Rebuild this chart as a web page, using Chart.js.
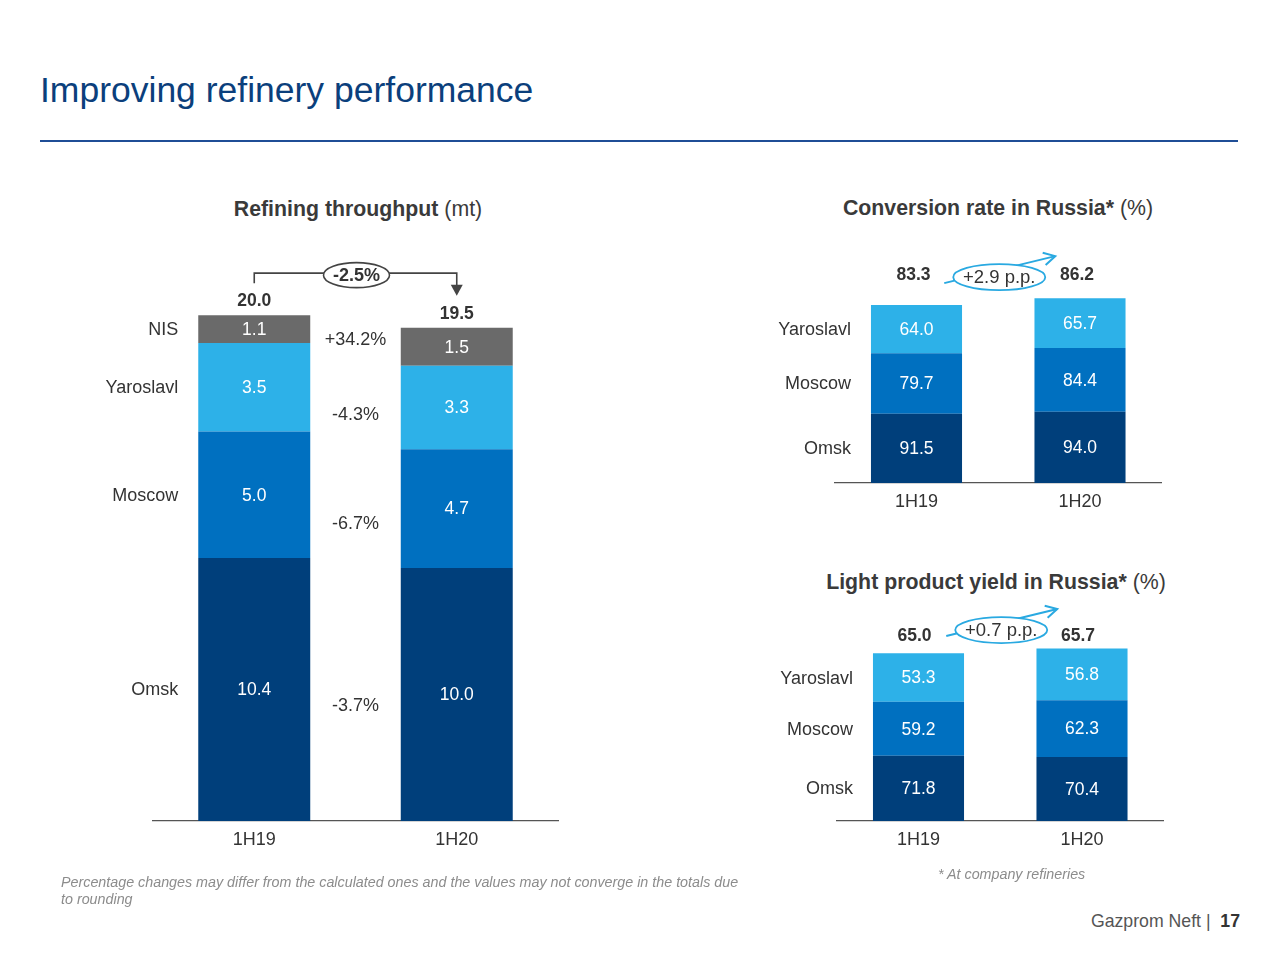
<!DOCTYPE html>
<html><head><meta charset="utf-8">
<script src="https://cdn.jsdelivr.net/npm/chart.js@4/dist/chart.umd.min.js"></script>
<style>
html,body{margin:0;padding:0;background:#fff;}
body{width:1280px;height:960px;position:relative;overflow:hidden;font-family:"Liberation Sans",Arial,Helvetica,sans-serif;color:#333;}
.abs{position:absolute;white-space:nowrap;}
.sub{font-size:21.3px;line-height:24px;text-align:center;width:400px;color:#3a3a3a;}
.sub b{font-weight:bold;}
.box{position:absolute;}
.box canvas{display:block;}
</style></head><body>
<div class="abs" style="left:40px;top:72px;font-size:35.5px;line-height:36px;color:#0B3F7C;">Improving refinery performance</div>
<div class="abs" style="left:40px;top:140px;width:1198px;height:2px;background:#1F4E96"></div>

<div class="abs sub" style="left:158px;top:197px;"><b>Refining throughput</b> (mt)</div>
<div class="abs sub" style="left:798px;top:196px;"><b>Conversion rate in Russia*</b> (%)</div>
<div class="abs sub" style="left:796px;top:570px;"><b>Light product yield in Russia*</b> (%)</div>

<div class="box" style="left:60px;top:200px;"><canvas id="c1" width="560" height="680"></canvas></div>
<div class="box" style="left:760px;top:240px;"><canvas id="c2" width="420" height="290"></canvas></div>
<div class="box" style="left:760px;top:590px;"><canvas id="c3" width="420" height="280"></canvas></div>

<div class="abs" style="left:61px;top:874px;font-size:14.3px;line-height:17px;font-style:italic;color:#8c8c8c;">Percentage changes may differ from the calculated ones and the values may not converge in the totals due<br>to rounding</div>
<div class="abs" style="left:938px;top:866px;font-size:14.3px;line-height:16px;font-style:italic;color:#8c8c8c;">* At company refineries</div>
<div class="abs" style="right:40px;top:911px;font-size:17.7px;line-height:20px;color:#555;">Gazprom Neft |&nbsp; <b style="color:#333">17</b></div>

<script>
// ---- data ----
const periods = ['1H19', '1H20'];

const throughputOmsk = [10.4, 10.0];
const throughputMoscow = [5.0, 4.7];
const throughputYaroslavl = [3.5, 3.3];
const throughputNIS = [1.1, 1.5];
const throughputTotals = [20.0, 19.5];
const throughputChanges = ['-3.7%', '-6.7%', '-4.3%', '+34.2%'];
const throughputTotalChange = '-2.5%';

const conversionOmsk = [91.5, 94.0];
const conversionMoscow = [79.7, 84.4];
const conversionYaroslavl = [64.0, 65.7];
const conversionTotals = [83.3, 86.2];
const conversionChange = '+2.9 p.p.';

const yieldOmsk = [71.8, 70.4];
const yieldMoscow = [59.2, 62.3];
const yieldYaroslavl = [53.3, 56.8];
const yieldTotals = [65.0, 65.7];
const yieldChange = '+0.7 p.p.';

// ---- styling ----
const FONT = '"Liberation Sans", Arial, Helvetica, sans-serif';
const C_OMSK = '#003F7B', C_MOSCOW = '#0070C0', C_YAR = '#2DB1E8', C_NIS = '#6A6A6A';
const TXT = '#333333';

const annot = {
  id: 'annot',
  afterDatasetsDraw(chart, args, o) {
    const ctx = chart.ctx;
    ctx.save();
    ctx.textAlign = 'center';
    ctx.textBaseline = 'middle';
    const metas = chart.data.datasets.map((d, i) => chart.getDatasetMeta(i));
    chart.data.datasets.forEach((ds, i) => {
      metas[i].data.forEach((el, j) => {
        const cy = (el.y + el.base) / 2;
        ctx.font = '17.5px ' + FONT;
        ctx.fillStyle = '#ffffff';
        ctx.textAlign = 'center';
        ctx.fillText(ds.data[j].toFixed(1), el.x, cy + 1);
        if (j === 0) {
          ctx.font = '18px ' + FONT;
          ctx.textAlign = 'right';
          ctx.fillStyle = TXT;
          ctx.fillText(ds.label, el.x - el.width / 2 - 20, cy + 1);
        }
      });
    });
    ctx.textAlign = 'center';
    if (o.changes) {
      ctx.font = '18px ' + FONT;
      ctx.fillStyle = TXT;
      o.changes.forEach((t, i) => {
        const a = metas[i].data[0], b = metas[i].data[1];
        const x = (a.x + a.width / 2 + b.x - b.width / 2) / 2;
        const y = ((a.y + a.base) / 2 + (b.y + b.base) / 2) / 2 + (o.changeDy ? o.changeDy[i] : 0);
        ctx.fillText(t, x, y);
      });
    }
    const last = metas[metas.length - 1].data;
    const tops = last.map(el => el.y);
    const minTop = Math.min(...tops);
    ctx.font = 'bold 17.5px ' + FONT;
    ctx.fillStyle = TXT;
    o.totals.forEach((v, j) => {
      const y = o.totalMode === 'each' ? tops[j] - o.totalOffset : minTop - o.totalOffset;
      ctx.fillText(v.toFixed(1), last[j].x + (o.totalDx || 0), y);
    });
    const x0 = last[0].x, x1 = last[1].x;
    if (o.bracket) {
      const yl = tops[0] - 42;
      ctx.strokeStyle = '#444'; ctx.lineWidth = 1.6; ctx.fillStyle = '#444';
      ctx.beginPath();
      ctx.moveTo(x0, tops[0] - 32); ctx.lineTo(x0, yl); ctx.lineTo(x1, yl); ctx.lineTo(x1, tops[1] - 42);
      ctx.stroke();
      ctx.beginPath();
      ctx.moveTo(x1 - 6, tops[1] - 43); ctx.lineTo(x1 + 6, tops[1] - 43); ctx.lineTo(x1, tops[1] - 32); ctx.closePath();
      ctx.fill();
      const cx = (x0 + x1) / 2 + 1, cy = yl + 2;
      ctx.beginPath(); ctx.ellipse(cx, cy, 33, 12.5, 0, 0, Math.PI * 2);
      ctx.fillStyle = '#fff'; ctx.fill(); ctx.stroke();
      ctx.fillStyle = TXT; ctx.font = 'bold 18px ' + FONT;
      ctx.fillText(o.bracket, cx, cy + 1);
    }
    if (o.arrow) {
      const cx = (x0 + x1) / 2 + 1;
      const cy = minTop - o.totalOffset + o.ellipseDy;
      ctx.strokeStyle = '#29A9E1'; ctx.lineWidth = 2;
      const ax = cx - 55, ay = cy + 6, bx = cx + 56, by = cy - 21;
      ctx.beginPath(); ctx.moveTo(ax, ay); ctx.lineTo(bx, by); ctx.stroke();
      const ang = Math.atan2(by - ay, bx - ax);
      ctx.beginPath();
      ctx.moveTo(bx - 13 * Math.cos(ang - 0.5), by - 13 * Math.sin(ang - 0.5));
      ctx.lineTo(bx, by);
      ctx.lineTo(bx - 13 * Math.cos(ang + 0.5), by - 13 * Math.sin(ang + 0.5));
      ctx.stroke();
      ctx.beginPath(); ctx.ellipse(cx, cy, 46, 13, 0, 0, Math.PI * 2);
      ctx.fillStyle = '#fff'; ctx.fill(); ctx.lineWidth = 1.8; ctx.stroke();
      ctx.fillStyle = TXT; ctx.font = '18.5px ' + FONT;
      ctx.fillText(o.arrow, cx, cy + 1);
    }
    ctx.restore();
  }
};

function makeChart(id, datasets, yMax, pad, catPct, annotOpts) {
  return new Chart(document.getElementById(id), {
    type: 'bar',
    data: { labels: periods, datasets },
    options: {
      responsive: false, animation: false, devicePixelRatio: 1,
      layout: { padding: pad },
      datasets: { bar: { barPercentage: 1, categoryPercentage: catPct, borderWidth: 0 } },
      plugins: { legend: { display: false }, tooltip: { enabled: false }, annot: annotOpts },
      scales: {
        x: {
          stacked: true,
          grid: { display: false, drawTicks: false },
          border: { display: true, color: '#555', width: 1.3 },
          ticks: { color: TXT, font: { family: FONT, size: 18 }, padding: 8 }
        },
        y: { stacked: true, display: false, min: 0, max: yMax }
      }
    },
    plugins: [annot]
  });
}

makeChart('c1', [
  { label: 'Omsk', data: throughputOmsk, backgroundColor: C_OMSK },
  { label: 'Moscow', data: throughputMoscow, backgroundColor: C_MOSCOW },
  { label: 'Yaroslavl', data: throughputYaroslavl, backgroundColor: C_YAR },
  { label: 'NIS', data: throughputNIS, backgroundColor: C_NIS }
], 24, { left: 93, right: 62, top: 14, bottom: 21.4 }, 0.553,
  { changes: throughputChanges, changeDy: [14, 22, 18, 2], totals: throughputTotals, totalMode: 'each', totalOffset: 14, bracket: throughputTotalChange });

makeChart('c2', [
  { label: 'Omsk', data: conversionOmsk, backgroundColor: C_OMSK },
  { label: 'Moscow', data: conversionMoscow, backgroundColor: C_MOSCOW },
  { label: 'Yaroslavl', data: conversionYaroslavl, backgroundColor: C_YAR }
], 300, { left: 74.75, right: 18.25, top: 15.8, bottom: 9.4 }, 0.557,
  { totals: conversionTotals, totalMode: 'common', totalOffset: 23, totalDx: -3, arrow: conversionChange, ellipseDy: 2 });

makeChart('c3', [
  { label: 'Omsk', data: yieldOmsk, backgroundColor: C_OMSK },
  { label: 'Moscow', data: yieldMoscow, backgroundColor: C_MOSCOW },
  { label: 'Yaroslavl', data: yieldYaroslavl, backgroundColor: C_YAR }
], 200, { left: 76.75, right: 16.25, top: 49, bottom: 11.4 }, 0.557,
  { totals: yieldTotals, totalMode: 'common', totalOffset: 12.5, totalDx: -4, arrow: yieldChange, ellipseDy: -6 });
</script>
</body></html>
